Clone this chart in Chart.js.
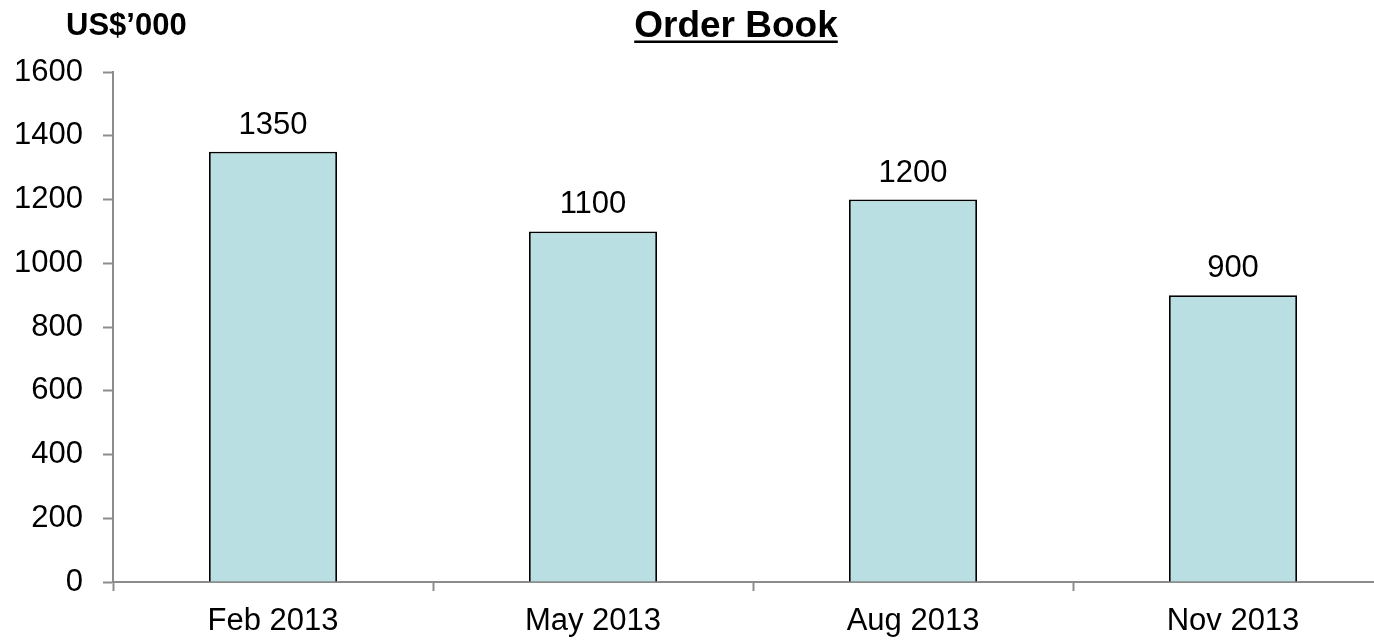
<!DOCTYPE html>
<html>
<head>
<meta charset="utf-8">
<script src="https://cdn.jsdelivr.net/npm/chart.js@4"></script>
<style>
  html, body { margin: 0; padding: 0; background: #fff; overflow: hidden; }
  #wrap { width: 1374px; height: 640px; overflow: hidden; }
</style>
</head>
<body>
<div id="wrap"><canvas id="orderBook" width="1393" height="640"></canvas></div>
<script>
// Order book by quarter, US$'000
const categories = ["Feb 2013", "May 2013", "Aug 2013", "Nov 2013"];
const orderBook = [1350, 1100, 1200, 900];
const yTicks = [0, 200, 400, 600, 800, 1000, 1200, 1400, 1600];

const FONT = "'Liberation Sans', Arial, sans-serif";
const AXIS_GREY = "#8c8c8c";

// value above each bar
const barValues = {
  id: "barValues",
  afterDatasetsDraw(chart) {
    const ctx = chart.ctx;
    const meta = chart.getDatasetMeta(0);
    ctx.save();
    ctx.font = "31px " + FONT;
    ctx.fillStyle = "#000";
    ctx.textAlign = "center";
    ctx.textBaseline = "alphabetic";
    meta.data.forEach((bar, i) => {
      ctx.fillText(String(orderBook[i]), bar.x, bar.y - 18);
    });
    ctx.restore();
  }
};

// unit label and underlined title
const headings = {
  id: "headings",
  afterDraw(chart) {
    const ctx = chart.ctx;
    ctx.save();
    ctx.fillStyle = "#000";
    ctx.textBaseline = "alphabetic";
    ctx.font = "bold 31px " + FONT;
    ctx.textAlign = "left";
    ctx.fillText("US$\u2019000", 66, 35);

    ctx.font = "bold 37px " + FONT;
    ctx.textAlign = "center";
    const cx = 736;
    ctx.fillText("Order Book", cx, 37);
    const w = ctx.measureText("Order Book").width;
    ctx.fillRect(cx - w / 2, 40.5, w, 2.5);
    ctx.restore();
  }
};

new Chart(document.getElementById("orderBook"), {
  type: "bar",
  data: {
    labels: categories,
    datasets: [{
      data: orderBook,
      backgroundColor: "#badfe2",
      borderColor: "#000",
      borderWidth: 1.8,
      barPercentage: 0.4,
      categoryPercentage: 1.0
    }]
  },
  options: {
    responsive: false,
    animation: false,
    devicePixelRatio: 1,
    layout: { padding: { top: 72, right: 0, bottom: 0, left: 0 } },
    plugins: {
      legend: { display: false },
      tooltip: { enabled: false }
    },
    scales: {
      x: {
        grid: {
          offset: true,
          drawOnChartArea: false,
          drawTicks: true,
          tickLength: 9,
          tickColor: AXIS_GREY,
          tickWidth: 2
        },
        border: { color: AXIS_GREY, width: 2 },
        ticks: {
          color: "#000",
          font: { family: FONT, size: 31 },
          padding: 12,
          maxRotation: 0
        },
        afterFit(scale) { scale.height = 58; }
      },
      y: {
        min: 0,
        max: 1600,
        afterBuildTicks(scale) {
          scale.ticks = yTicks.map(v => ({ value: v }));
        },
        grid: {
          drawOnChartArea: false,
          drawTicks: true,
          tickLength: 10,
          tickColor: AXIS_GREY,
          tickWidth: 2
        },
        border: { color: AXIS_GREY, width: 2 },
        ticks: {
          color: "#000",
          font: { family: FONT, size: 31 },
          padding: 20,
          callback: v => String(v)
        },
        afterFit(scale) { scale.width = 113; }
      }
    }
  },
  plugins: [barValues, headings]
});
</script>
</body>
</html>
